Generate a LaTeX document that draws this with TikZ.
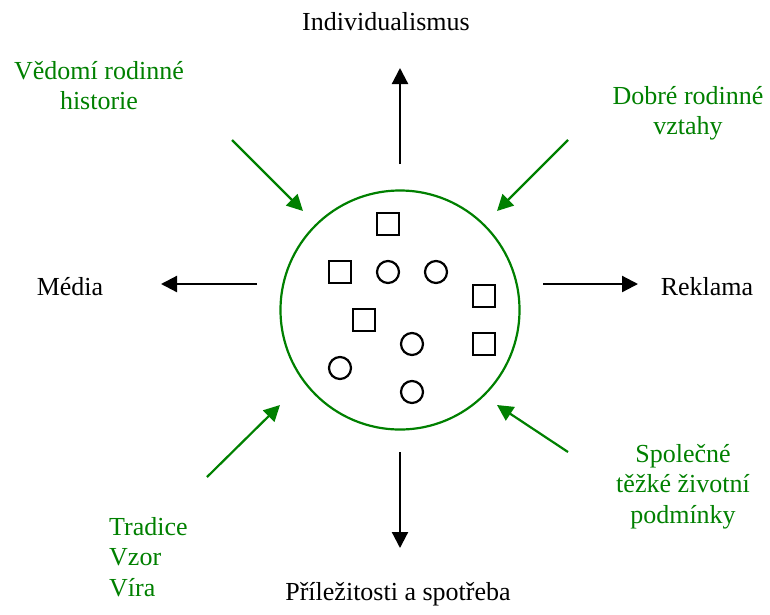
\documentclass[tikz,border=0pt]{standalone}
\usepackage{fontspec}
\setmainfont{Liberation Serif}
\usetikzlibrary{arrows.meta}
\definecolor{leafgreen}{RGB}{0,128,0}

\tikzset{
  push/.style={-{Triangle[length=16pt,width=16pt]}, line width=2.2pt},
  pull/.style={push, leafgreen},
  txt/.style={inner sep=0pt, font=\fontsize{26}{30.5}\selectfont},
  box/.style={draw, line width=2.2pt, minimum size=22pt, inner sep=0pt},
  dot/.style={draw, circle, line width=2.2pt, minimum size=22pt, inner sep=0pt}
}

\begin{document}
\begin{tikzpicture}[x=1pt, y=-1pt]
\useasboundingbox (0,0) rectangle (770,614);

\node [circle, draw=leafgreen, line width=2.2pt, minimum size=239pt] (group) at (400,310) {};

% squares and circles in the group
\node [box] (sq1) at (388,224) {};
\node [box] (sq2) at (340,272) {};
\node [box] (sq3) at (484,296) {};
\node [box] (sq4) at (364,320) {};
\node [box] (sq5) at (484,344) {};
\node [dot] (dot1) at (388,272) {};
\node [dot] (dot2) at (436,272) {};
\node [dot] (dot3) at (412,344) {};
\node [dot] (dot4) at (340,368) {};
\node [dot] (dot5) at (412,392) {};

% outward
\node [txt, anchor=base] (indiv) at (386,30) {Individualismus};
\node [txt, anchor=base] (media) at (70,295) {Média};
\node [txt, anchor=base] (reklama) at (707,295) {Reklama};
\node [txt, anchor=base] (spotreba) at (398,600) {Příležitosti a spotřeba};

% inward
\node [txt, leafgreen, align=center, anchor=north] (historie) at (99,61) {Vědomí rodinné\\historie};
\node [txt, leafgreen, align=center, anchor=north] (vztahy) at (688,86) {Dobré rodinné\\vztahy};
\node [txt, leafgreen, align=center, anchor=north] (podminky) at (683,444) {Společné\\těžké životní\\podmínky};
\node [txt, leafgreen, align=left, anchor=north west] (tradice) at (109,517) {Tradice\\Vzor\\Víra};

\coordinate (up-from) at (400,164);
\coordinate (up-to) at (400,68);
\coordinate (left-from) at (257,284);
\coordinate (left-to) at (161,284);
\coordinate (right-from) at (543,284);
\coordinate (right-to) at (638,284);
\coordinate (down-from) at (400,452);
\coordinate (down-to) at (400,548);
\coordinate (nw-from) at (232,140);
\coordinate (nw-to) at (303,211);
\coordinate (ne-from) at (568,140);
\coordinate (ne-to) at (497,211);
\coordinate (sw-from) at (207,477);
\coordinate (sw-to) at (280,405);
\coordinate (se-from) at (568,452);
\coordinate (se-to) at (497,405);

\draw [push] (up-from) -- (up-to);
\draw [push] (left-from) -- (left-to);
\draw [push] (right-from) -- (right-to);
\draw [push] (down-from) -- (down-to);
\draw [pull] (nw-from) -- (nw-to);
\draw [pull] (ne-from) -- (ne-to);
\draw [pull] (sw-from) -- (sw-to);
\draw [pull] (se-from) -- (se-to);
\end{tikzpicture}
\end{document}
